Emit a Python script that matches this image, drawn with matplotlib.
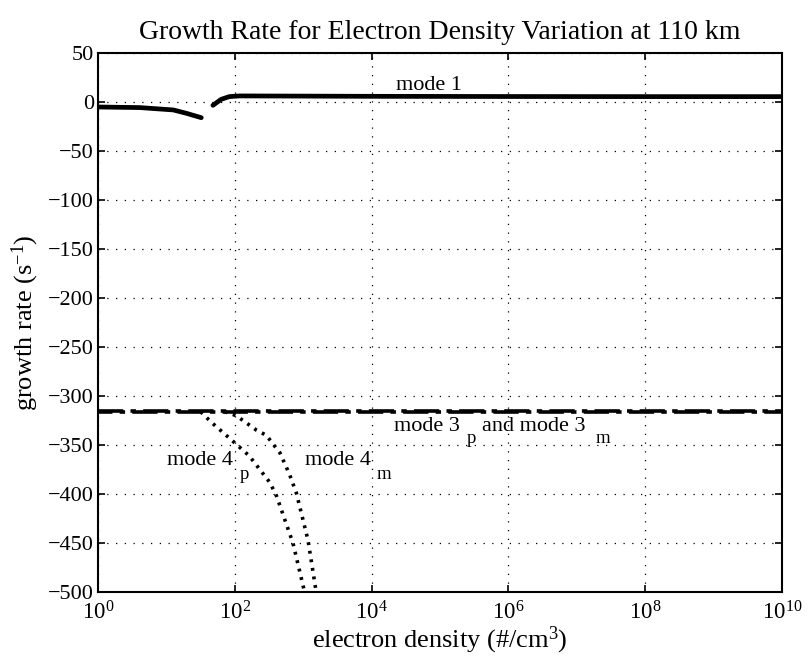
import numpy as np
import matplotlib
matplotlib.use("Agg")
import matplotlib.pyplot as plt
from matplotlib.ticker import LogFormatterMathtext, NullLocator

plt.rcParams['font.family'] = ['Liberation Serif', 'DejaVu Serif']
plt.rcParams['mathtext.fontset'] = 'custom'
plt.rcParams['mathtext.rm'] = 'Liberation Serif'
plt.rcParams['mathtext.it'] = 'Liberation Serif:italic'
plt.rcParams['mathtext.bf'] = 'Liberation Serif:bold'

# mode 1 (two pieces, gap between them) -- log10 of density, growth rate
mode1a_logn = [0.0, 0.61, 1.10, 1.29, 1.51]
mode1a_rate = [-5.1, -5.7, -8.1, -11.5, -16.0]
mode1b_logn = [1.68, 1.80, 1.92, 2.07, 4.0, 6.0, 8.0, 10.0]
mode1b_rate = [-3.4, 2.7, 5.5, 6.2, 5.8, 5.6, 5.5, 5.5]

# mode 3p / 3m (flat)
mode3_logn = [0.0, 10.0]
mode3p_rate = [-315.0, -315.0]
mode3m_rate = [-316.5, -316.5]

# mode 4p / 4m
mode4p_logn = [1.50, 1.66, 1.97, 2.21, 2.51, 2.61, 2.85, 3.02]
mode4p_rate = [-316, -327, -346, -361, -388, -402, -450, -500]
mode4m_logn = [1.85, 2.02, 2.32, 2.46, 2.66, 2.80, 2.90, 3.07, 3.19]
mode4m_rate = [-316, -320, -335, -340, -358, -380, -399, -447, -500]

xtick_logn = [0, 2, 4, 6, 8, 10]

fig = plt.figure(figsize=(8.1, 6.65), dpi=100)
ax = fig.add_axes([98 / 810, 1 - 592 / 665, (782 - 98) / 810, (592 - 53) / 665])

def dens(logn):
    return 10.0 ** np.array(logn, dtype=float)

ax.plot(dens(mode1a_logn), mode1a_rate, color='black', lw=3.4, solid_capstyle='round')
ax.plot(dens(mode1b_logn), mode1b_rate, color='black', lw=3.4, solid_capstyle='round')
ax.plot(dens(mode3_logn), mode3p_rate, color='black', lw=2.6, linestyle=(0, (7, 2, 1.5, 2)))
ax.plot(dens(mode3_logn), mode3m_rate, color='black', lw=2.6, linestyle=(3, (7, 2, 1.5, 2)))
ax.plot(dens(mode4p_logn), mode4p_rate, color='black', lw=2.6, linestyle=(0, (0.8, 1.6)))
ax.plot(dens(mode4m_logn), mode4m_rate, color='black', lw=2.6, linestyle=(0, (0.8, 1.6)))

ax.set_xscale('log')
ax.set_xlim(1, 1e10)
ax.set_ylim(-500, 50)
ax.set_xticks(dens(xtick_logn))
ax.xaxis.set_major_formatter(LogFormatterMathtext())
ax.xaxis.set_minor_locator(NullLocator())
ax.set_yticks(np.arange(-500, 51, 50))

ax.grid(True, which='major', linestyle=(0, (1, 6)), color='black', lw=0.9)
ax.tick_params(direction='in', top=True, right=True, length=5, width=1.2,
               labelsize=16, pad=3)
ax.tick_params(axis='x', labelsize=16.5, pad=7)
for s in ax.spines.values():
    s.set_linewidth(1.5)

# curve labels (subscripts placed MATLAB-style, set lower and apart)
ax.text(dens(4.36), 12.2, 'mode 1', fontsize=16)
ax.text(dens(4.33), -335.7, 'mode 3', fontsize=16)
ax.text(dens(5.39), -347.5, 'p', fontsize=13.5)
ax.text(dens(5.61), -335.7, 'and mode 3', fontsize=16)
ax.text(dens(7.27), -347.5, 'm', fontsize=13.5)
ax.text(dens(1.01), -370.2, 'mode 4', fontsize=16)
ax.text(dens(2.07), -384.5, 'p', fontsize=13.5)
ax.text(dens(3.02), -370.2, 'mode 4', fontsize=16)
ax.text(dens(4.07), -384.5, 'm', fontsize=13.5)

ax.set_title('Growth Rate for Electron Density Variation at 110 km', fontsize=20, pad=10)
ax.set_xlabel(r'electron density (#/cm$^{3}$)', fontsize=19, labelpad=0)
ax.set_ylabel(r'growth rate (s$^{-1}$)', fontsize=19, labelpad=5)

fig.savefig('out.png', dpi=100)
